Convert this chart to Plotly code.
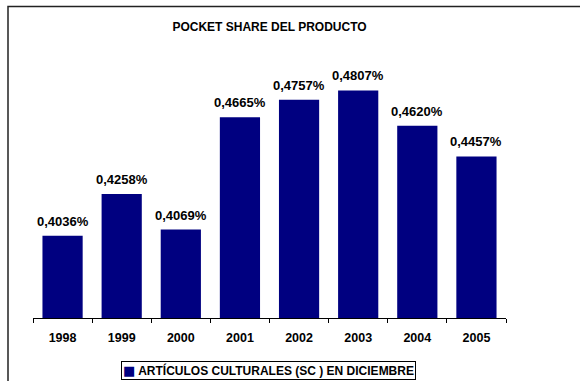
import plotly.graph_objects as go

years = ["1998", "1999", "2000", "2001", "2002", "2003", "2004", "2005"]
values = [0.4036, 0.4258, 0.4069, 0.4665, 0.4757, 0.4807, 0.4620, 0.4457]
labels = ["0,4036%", "0,4258%", "0,4069%", "0,4665%", "0,4757%", "0,4807%", "0,4620%", "0,4457%"]
series_name = "ARTÍCULOS CULTURALES (SC ) EN DICIEMBRE"
title_text = "POCKET SHARE DEL PRODUCTO"

FONT = "Arial, Liberation Sans, sans-serif"
NAVY = "#000080"

fig = go.Figure()
fig.add_trace(go.Bar(
    x=years, y=values, name=series_name,
    marker=dict(color=NAVY, line=dict(width=0)),
    showlegend=False,
))

for i, (v, t) in enumerate(zip(values, labels)):
    fig.add_annotation(x=i, y=v, text=t, showarrow=False, yanchor="bottom",
                       yshift=5, font=dict(family=FONT, size=13, color="#000000", weight="bold"))

L, R, T, B = 33, 74, 54, 63
W, H = 580, 381
pw, ph = W - L - R, H - T - B

def px_x(p):
    return (p - L) / pw

def px_y(p):
    return (H - B - p) / ph

# outer chart-area border
fig.add_shape(type="rect", xref="paper", yref="paper",
              x0=px_x(8), x1=px_x(600), y0=px_y(6.5), y1=px_y(420),
              line=dict(color="#222222", width=1.5), fillcolor="rgba(0,0,0,0)", layer="above")

# legend box (series key)
fig.add_annotation(xref="paper", yref="paper", x=px_x(268), y=px_y(370.5),
                   xanchor="center", yanchor="middle", showarrow=False,
                   text=f"<span style='color:{NAVY};font-family:DejaVu Sans;font-size:13px'>■</span> {series_name}",
                   bordercolor="#000000", borderwidth=1, borderpad=1, bgcolor="white",
                   font=dict(family=FONT, size=12, color="#000000", weight="bold"))

fig.update_layout(
    width=W, height=H,
    margin=dict(l=L, r=R, t=T, b=B, pad=0),
    paper_bgcolor="white", plot_bgcolor="white",
    bargap=0.32, showlegend=False,
    title=dict(text=title_text, x=0.5, xref="paper", y=1 - 26.5 / H, yref="container",
               xanchor="center", yanchor="middle",
               font=dict(family=FONT, size=12, color="#000000", weight="bold")),
    xaxis=dict(type="category", range=[-0.5, len(years) - 0.5], autorange=False,
               showline=True, linecolor="#000000", linewidth=1,
               ticks="outside", tickson="boundaries", ticklen=4, tickcolor="#000000",
               tickwidth=1, showgrid=False, ticklabelstandoff=8,
               tickfont=dict(family=FONT, size=12.5, color="#000000", weight="bold")),
    yaxis=dict(range=[0.36, 0.5], autorange=False, visible=False, showgrid=False),
)

fig.write_html("out.html", config={"displayModeBar": False},
               post_script="document.body.style.margin='0px';document.body.style.overflow='hidden';")
